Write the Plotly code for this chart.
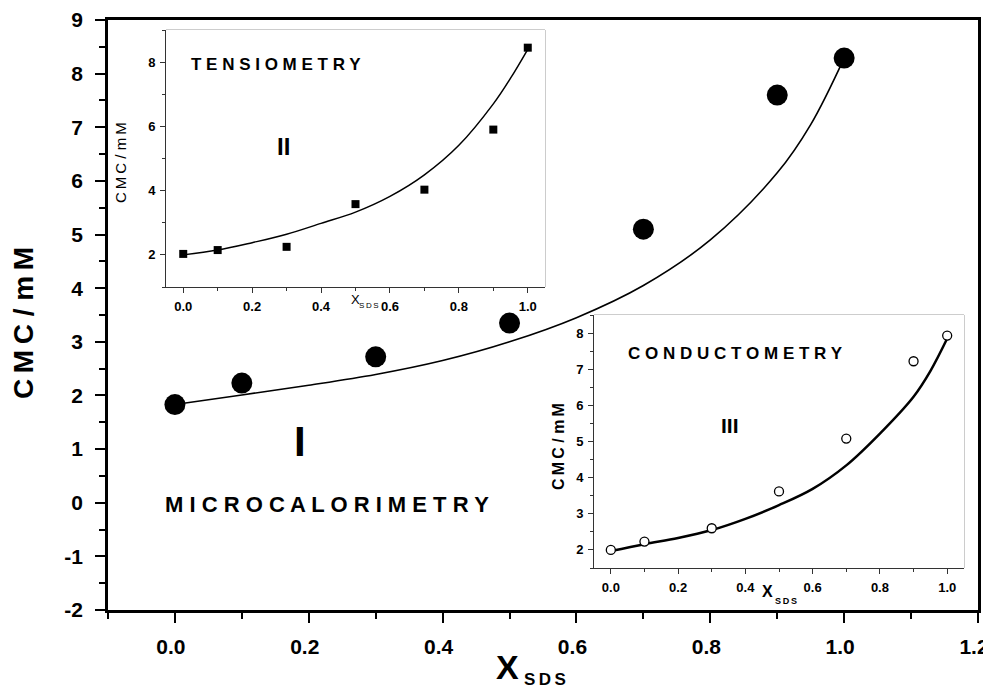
import plotly.graph_objects as go

# ---------------- data ----------------
x_pts = [0.0, 0.1, 0.3, 0.5, 0.7, 0.9, 1.0]
x_fit = [0.0, 0.1, 0.2, 0.3, 0.4, 0.5, 0.6, 0.7, 0.8, 0.9, 0.95, 1.0]

# I  - microcalorimetry (main panel)
cmc_micro = [1.83, 2.23, 2.72, 3.35, 5.10, 7.60, 8.29]
fit_micro = [1.83, 2.01, 2.19, 2.39, 2.65, 3.00, 3.45, 4.05, 4.90, 6.15, 7.05, 8.29]

# II - tensiometry (upper inset)
cmc_tens = [2.03, 2.15, 2.25, 3.58, 4.03, 5.90, 8.45]
fit_tens = [2.00, 2.15, 2.38, 2.64, 2.98, 3.33, 3.82, 4.49, 5.41, 6.70, 7.50, 8.40]

# III - conductometry (lower inset)
cmc_cond = [2.00, 2.23, 2.60, 3.62, 5.08, 7.22, 7.93]
fit_cond = [1.97, 2.16, 2.33, 2.55, 2.86, 3.24, 3.69, 4.34, 5.22, 6.24, 6.95, 7.85]

main_xticks = [0.0, 0.2, 0.4, 0.6, 0.8, 1.0, 1.2]
main_yticks = [-2, -1, 0, 1, 2, 3, 4, 5, 6, 7, 8, 9]
main_ytext = [str(v) for v in main_yticks]
ins_xticks = [0.0, 0.2, 0.4, 0.6, 0.8, 1.0]
tens_yticks = [2, 4, 6, 8]
cond_yticks = [2, 3, 4, 5, 6, 7, 8]

# the page body has an 8px margin, so the figure is drawn 8px in from the corner
OFF = 8
W, H = 991 - OFF, 696 - 2 * OFF
FONT = "Liberation Sans, Arial, sans-serif"


def px(x):
    return (x - OFF) / W


def py(y):
    return 1 - (y - OFF) / H


fig = go.Figure()

# main
fig.add_trace(go.Scatter(x=x_fit, y=fit_micro, mode="lines", line=dict(color="black", width=1.6, shape="spline"),
                         xaxis="x", yaxis="y", hoverinfo="skip"))
fig.add_trace(go.Scatter(x=x_pts, y=cmc_micro, mode="markers",
                         marker=dict(symbol="circle", size=21, color="black"), xaxis="x", yaxis="y"))
# inset II
fig.add_trace(go.Scatter(x=x_fit, y=fit_tens, mode="lines", line=dict(color="black", width=1.5, shape="spline"),
                         xaxis="x2", yaxis="y2", hoverinfo="skip"))
fig.add_trace(go.Scatter(x=x_pts, y=cmc_tens, mode="markers",
                         marker=dict(symbol="square", size=8, color="black"), xaxis="x2", yaxis="y2"))
# inset III
fig.add_trace(go.Scatter(x=x_fit, y=fit_cond, mode="lines", line=dict(color="black", width=2.5, shape="spline"),
                         xaxis="x3", yaxis="y3", hoverinfo="skip"))
fig.add_trace(go.Scatter(x=x_pts, y=cmc_cond, mode="markers",
                         marker=dict(symbol="circle", size=9, color="white", line=dict(color="black", width=1.3)),
                         xaxis="x3", yaxis="y3"))

main_axis = dict(showgrid=False, zeroline=False, showline=True, linecolor="black", linewidth=2.5,
                 mirror=True, ticks="outside", tickcolor="black", tickwidth=2, ticklen=10, automargin=False,
                 ticklabeloverflow="allow")
ins_axis = dict(showgrid=False, zeroline=False, showline=True, linecolor="#333", linewidth=1,
                ticks="outside", tickcolor="#333", tickwidth=1, ticklen=5, automargin=False)

fig.update_layout(
    width=W, height=H, autosize=False,
    margin=dict(l=0, r=0, t=0, b=0, autoexpand=False),
    paper_bgcolor="white", plot_bgcolor="white",
    showlegend=False,
    xaxis=dict(main_axis, domain=[px(108), px(978)], range=[-0.1, 1.2], anchor="y",
               tickvals=main_xticks, tickformat=".1f",
               minor=dict(dtick=0.1, tick0=0, ticks="outside", ticklen=6, tickwidth=2, tickcolor="black"),
               tickfont=dict(family=FONT, size=21, weight="bold", color="black"),
               ticklabelstandoff=6, ticklabelshift=-4),
    yaxis=dict(main_axis, domain=[py(610), py(20)], range=[-2, 9], anchor="x",
               tickvals=main_yticks, ticktext=main_ytext,
               minor=dict(dtick=0.5, tick0=0, ticks="outside", ticklen=6, tickwidth=2, tickcolor="black"),
               tickfont=dict(family=FONT, size=21, weight="bold", color="black"), ticklabelstandoff=8),
    xaxis2=dict(ins_axis, domain=[px(166), px(545)], range=[-0.05, 1.05], anchor="y2",
                tickvals=ins_xticks, tickformat=".1f",
                minor=dict(dtick=0.1, tick0=0, ticks="outside", ticklen=3, tickcolor="#333"),
                tickfont=dict(family=FONT, size=13, weight="bold", color="black"), ticklabelstandoff=2),
    yaxis2=dict(ins_axis, domain=[py(287), py(30)], range=[1, 9], anchor="x2",
                tickvals=tens_yticks,
                minor=dict(dtick=1, tick0=1, ticks="outside", ticklen=3, tickcolor="#333"),
                tickfont=dict(family=FONT, size=13, weight="bold", color="black"), ticklabelstandoff=2),
    xaxis3=dict(ins_axis, domain=[px(594), px(964)], range=[-0.05, 1.05], anchor="y3",
                tickvals=ins_xticks, tickformat=".1f",
                minor=dict(dtick=0.1, tick0=0, ticks="outside", ticklen=3, tickcolor="#333"),
                tickfont=dict(family=FONT, size=13, weight="bold", color="black"), ticklabelstandoff=2),
    yaxis3=dict(ins_axis, domain=[py(568), py(315)], range=[1.5, 8.5], anchor="x3",
                tickvals=cond_yticks,
                minor=dict(dtick=0.5, tick0=0, ticks="outside", ticklen=3, tickcolor="#333"),
                tickfont=dict(family=FONT, size=13, weight="bold", color="black"), ticklabelstandoff=2),
)

# grey frames of the insets
for xr, yr in [("x2 domain", "y2 domain"), ("x3 domain", "y3 domain")]:
    fig.add_shape(type="rect", xref=xr, yref=yr, x0=0, x1=1, y0=0, y1=1,
                  line=dict(color="#9a9a9a", width=1), layer="below")


def ann(text, x, y, size, bold=True, angle=0):
    fig.add_annotation(text=text, x=px(x), y=py(y), xref="paper", yref="paper", showarrow=False,
                       xanchor="center", yanchor="middle", textangle=angle,
                       font=dict(family=FONT, size=size, color="black", weight="bold" if bold else "normal"))


TS = "\u2009"
# main titles
ann("C" + TS + "M" + TS + "C / m" + TS + "M", 23, 323, 28, angle=-90)
ann("X", 507, 667, 34)
ann("S" + TS + "D" + TS + "S", 545, 679, 17)
ann("I", 300, 441, 42)
ann("M I C R O C A L O R I M E T R Y", 327, 505, 22)

# inset II
ann("T E N S I O M E T R Y", 276, 64, 17)
ann("II", 283, 147, 24)
ann(TS.join("CMC") + " / " + TS.join("mM"), 121, 163, 15, bold=False, angle=-90)
ann("X", 355, 299, 13, bold=False)
ann("S" + TS + "D" + TS + "S", 369, 305, 8, bold=False)

# inset III
ann("C O N D U C T O M E T R Y", 735, 353, 17)
ann("III", 730, 425, 21)
ann(TS.join("CMC") + " / " + TS.join("mM"), 558, 447, 16, angle=-90)
ann("X", 767, 591, 16)
ann("S" + TS + "D" + TS + "S", 786, 601, 9)

fig.write_html("out.html")
